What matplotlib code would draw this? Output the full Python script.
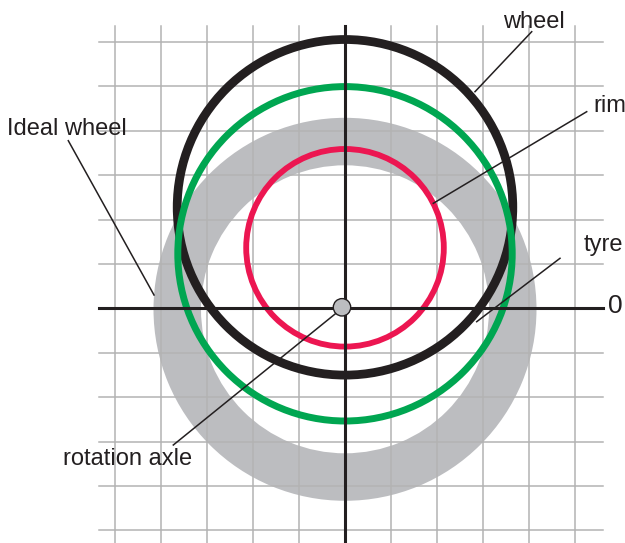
import matplotlib
matplotlib.use('Agg')
import matplotlib.pyplot as plt
from matplotlib.patches import Circle, Annulus

plt.rcParams['font.family'] = ['Liberation Sans', 'DejaVu Sans']

# All positions in pixel-sized units, origin at the rotation axle
grid_x = [-230, -184, -138, -92, -46, 46, 92, 138, 184, 230]
grid_y = [-222, -177.6, -133.2, -88.8, -44.4, 44.4, 88.8, 133.2, 177.6, 222, 266.4]

# circles: name, centre x, centre y, radius
circle_names = ['wheel', 'tyre_ring', 'rim']
circle_cx = [0, 0, 0]
circle_cy = [101.0, 54.5, 60.5]
circle_r = [167.8, 167.2, 98.8]

ideal_centre = (0, -1.0)
ideal_outer_r = 191.5
ideal_width = 47.5

axle_centre = (-3.0, 1.0)
axle_r = 8.7

labels = ['wheel', 'rim', 'Ideal wheel', 'tyre', 'rotation axle']
label_pos = [(158, 280.3), (248, 196.3), (-338, 173.3), (239, 57.3), (-282, -156.7)]
leader_start = [(186.7, 276.6), (241.7, 196.6), (-276.7, 167.6), (215, 50), (-171.7, -136.7)]
leader_end = [(130, 216.6), (88.3, 105), (-191, 13.3), (131.7, -13.4), (-8.3, -4.4)]

BLACK = '#231f20'
colors = {'wheel': BLACK, 'tyre_ring': '#00a651', 'rim': '#ec1651'}
widths = {'wheel': 6.3, 'tyre_ring': 5.0, 'rim': 4.2}

fig = plt.figure(figsize=(6.25, 5.43), dpi=100)
ax = fig.add_axes([0, 0, 1, 1])
ax.set_xlim(-345, 280)
ax.set_ylim(-234.7, 308.3)
ax.axis('off')

# ideal wheel (grey band)
ax.add_patch(Annulus(ideal_centre, ideal_outer_r, ideal_width,
                     facecolor='#bcbdc0', edgecolor='none', zorder=1))

# grid
for gx in grid_x:
    ax.plot([gx, gx], [-240, 282.3], color='#b3b3b3', lw=1.1, zorder=2)
for gy in grid_y:
    ax.plot([-246, 258], [gy, gy], color='#b3b3b3', lw=1.1, zorder=2)

# the circles
for name, cx, cy, r in zip(circle_names, circle_cx, circle_cy, circle_r):
    ax.add_patch(Circle((cx, cy), r, fill=False, edgecolor=colors[name],
                        lw=widths[name], zorder=3))

# axes
ax.plot([-246, 258], [0, 0], color=BLACK, lw=2.2, zorder=4)
ax.plot([0, 0], [-240, 282.3], color=BLACK, lw=2.2, zorder=4)
ax.text(262.7, -4.4, '0', fontsize=19, color=BLACK, ha='left', va='baseline')

# leader lines and labels
for text, pos, s, e in zip(labels, label_pos, leader_start, leader_end):
    ax.plot([s[0], e[0]], [s[1], e[1]], color=BLACK, lw=1.1, zorder=5)
    ax.text(pos[0], pos[1], text, fontsize=17, color=BLACK,
            ha='left', va='baseline', zorder=6)

# rotation axle
ax.add_patch(Circle(axle_centre, axle_r, facecolor='#bcbdc0',
                    edgecolor=BLACK, lw=1.0, zorder=6))

fig.savefig('out.png', dpi=100)
